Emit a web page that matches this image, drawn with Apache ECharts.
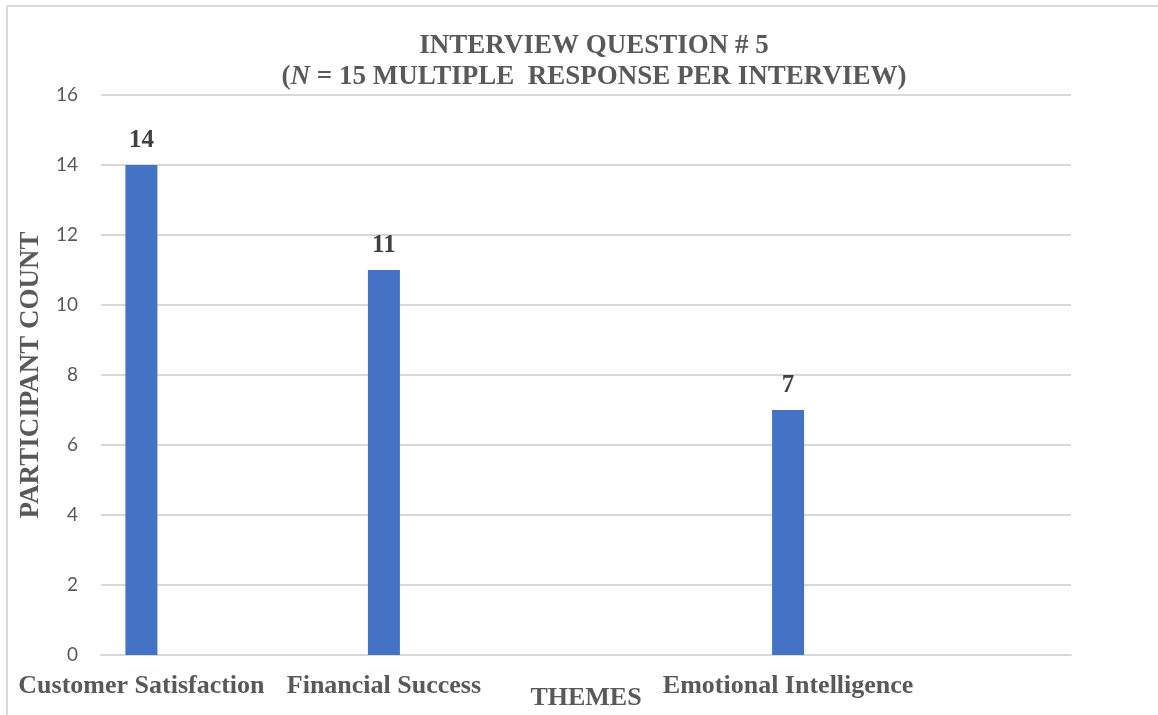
<!DOCTYPE html>
<html>
<head>
<meta charset="utf-8">
<script src="https://cdn.jsdelivr.net/npm/echarts@6/dist/echarts.min.js"></script>
<style>
  html, body { margin: 0; padding: 0; background: #ffffff; }
  #chart { width: 1158px; height: 715px; }
</style>
</head>
<body>
<div id="chart"></div>
<script>
// 12 slots on the axis, only three carry a theme
var themes = [
  "Customer Satisfaction", "", "", "Financial Success", "", "",
  "", "", "Emotional Intelligence", "", "", ""
];
var counts = [14, null, null, 11, null, null, null, null, 7, null, null, null];
var yTicks = [0, 2, 4, 6, 8, 10, 12, 14, 16];

var serif = "'Liberation Serif', 'Times New Roman', serif";
var chart = echarts.init(document.getElementById("chart"));

var option = {
  backgroundColor: "#ffffff",
  animation: false,
  title: {
    text: "INTERVIEW QUESTION # 5\n({i|N} = 15 MULTIPLE  RESPONSE PER INTERVIEW)",
    left: 589,
    top: 26,
    textAlign: "center",
    textStyle: {
      fontFamily: serif,
      fontWeight: "bold",
      fontSize: 27,
      color: "#595959",
      lineHeight: 31,
      rich: {
        i: {
          fontFamily: serif,
          fontWeight: "bold",
          fontStyle: "italic",
          fontSize: 27,
          color: "#595959"
        }
      }
    }
  },
  graphic: [
    {
      type: "rect",
      shape: { x: 7, y: 6, width: 1200, height: 800 },
      style: { fill: "none", stroke: "#d9d9d9", lineWidth: 2 },
      silent: true
    }
  ],
  grid: { left: 101, right: 87, top: 95, bottom: 60, outerBoundsMode: "none" },
  xAxis: {
    type: "category",
    data: themes,
    name: "THEMES",
    nameLocation: "middle",
    nameGap: 30,
    nameMoveOverlap: false,
    nameTextStyle: {
      fontFamily: serif,
      fontWeight: "bold",
      fontSize: 26,
      color: "#595959"
    },
    axisLine: { lineStyle: { color: "#d9d9d9", width: 2 } },
    axisTick: { show: false },
    axisLabel: {
      interval: 0,
      margin: 18,
      fontFamily: serif,
      fontWeight: "bold",
      fontSize: 26,
      color: "#595959"
    }
  },
  yAxis: {
    type: "value",
    min: yTicks[0],
    max: yTicks[yTicks.length - 1],
    interval: 2,
    name: "PARTICIPANT COUNT",
    nameLocation: "middle",
    nameGap: 56,
    nameMoveOverlap: false,
    nameTextStyle: {
      fontFamily: serif,
      fontWeight: "bold",
      fontSize: 27,
      color: "#595959"
    },
    axisLine: { show: false },
    axisTick: { show: false },
    axisLabel: {
      margin: 23,
      fontFamily: "Lato, 'Open Sans', sans-serif",
      fontSize: 19,
      color: "#595959"
    },
    splitLine: { lineStyle: { color: "#d9d9d9", width: 2 } }
  },
  series: [
    {
      type: "bar",
      data: counts,
      barWidth: 32,
      itemStyle: { color: "#4472c4" },
      label: {
        show: true,
        position: "top",
        distance: 12,
        fontFamily: serif,
        fontWeight: "bold",
        fontSize: 25,
        color: "#404040"
      }
    }
  ]
};

chart.setOption(option);
</script>
</body>
</html>
